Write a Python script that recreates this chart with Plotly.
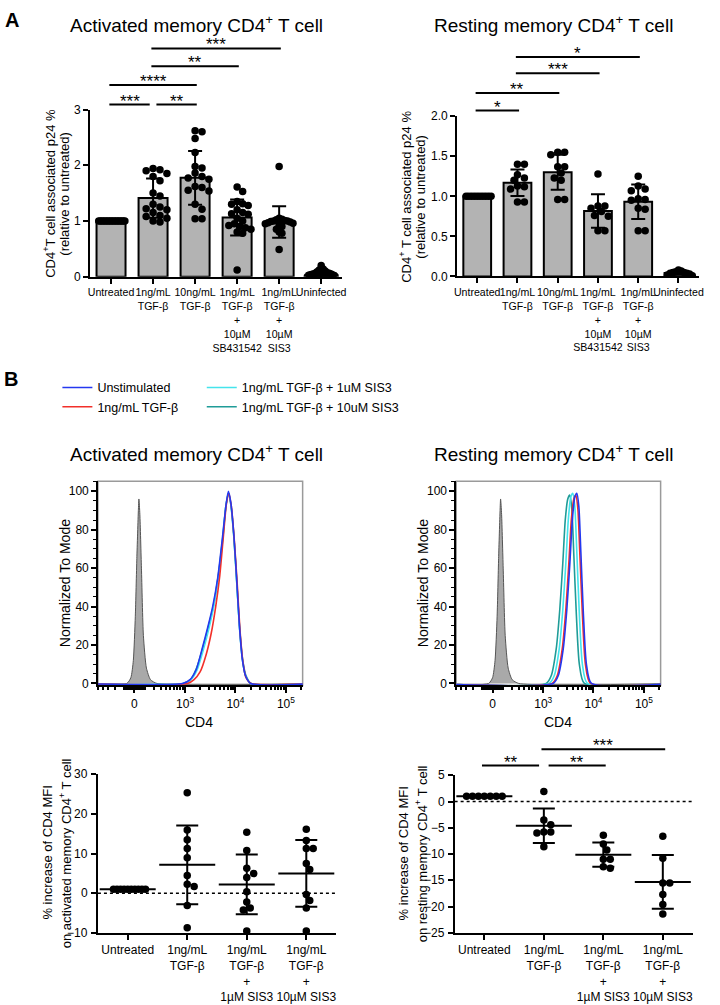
import numpy as np
import plotly.graph_objects as go

W, H = 720, 1005
FONT = "Arial, 'Liberation Sans', Helvetica, sans-serif"

# ------------------------------------------------------------------ data
# Panel A : CD4+ T cell associated p24 % (relative to untreated)
a_ticks = ["Untreated", "1ng/mL<br>TGF-β", "10ng/mL<br>TGF-β",
           "1ng/mL<br>TGF-β<br>+<br>10µM<br>SB431542",
           "1ng/mL<br>TGF-β<br>+<br>10µM<br>SIS3", "Uninfected"]

act_untreated = [1.00, 1.00, 1.00, 1.00, 1.00, 1.00, 1.00, 1.00, 1.00,
                 1.00, 1.00, 1.00, 1.00, 1.00, 1.00, 1.00, 1.00, 1.00]
act_tgf1 = [1.94, 1.92, 1.90, 1.85, 1.80, 1.72, 1.50, 1.45, 1.30, 1.25,
            1.22, 1.20, 1.15, 1.10, 1.08, 1.05, 1.00, 0.98]
act_tgf10 = [2.62, 2.60, 2.48, 2.23, 1.98, 1.95, 1.86, 1.80, 1.77, 1.75,
             1.62, 1.60, 1.55, 1.54, 1.30, 1.21, 1.04, 1.04]
act_sb = [1.61, 1.53, 1.35, 1.31, 1.30, 1.28, 1.20, 1.15, 1.13, 1.12,
          1.05, 1.00, 0.95, 0.92, 0.90, 0.88, 0.85, 0.80, 0.78, 0.12]
act_sis3 = [1.98, 1.05, 1.03, 1.02, 1.01, 1.00, 1.00, 0.99, 0.98, 0.97,
            0.96, 0.95, 0.92, 0.90, 0.85, 0.80, 0.78, 0.49]
act_uninf = [0.20, 0.14, 0.12, 0.10, 0.09, 0.08, 0.07, 0.06, 0.06, 0.05,
             0.05, 0.04, 0.03, 0.03, 0.02, 0.01, 0.00, 0.00]

res_untreated = [1.00, 1.00, 1.00, 1.00, 1.00, 1.00, 1.00, 1.00, 1.00, 1.00]
res_tgf1 = [1.40, 1.40, 1.27, 1.23, 1.20, 1.13, 1.12, 1.09, 0.93, 0.93]
res_tgf10 = [1.55, 1.55, 1.52, 1.37, 1.37, 1.29, 1.23, 1.20, 0.96, 0.96]
res_sb = [1.28, 0.88, 0.88, 0.85, 0.81, 0.76, 0.75, 0.57, 0.57]
res_sis3 = [1.25, 1.13, 1.09, 1.07, 0.97, 0.96, 0.95, 0.85, 0.84, 0.57, 0.57]
res_uninf = [0.08, 0.07, 0.06, 0.05, 0.05, 0.04, 0.04, 0.03, 0.02, 0.01]

act_yticks = [0, 1, 2, 3]
res_yticks = [0.0, 0.5, 1.0, 1.5, 2.0]

act_sig = [(0, 1, "***", 0), (1, 2, "**", 0), (0, 2, "****", 1),
           (1, 3, "**", 2), (1, 4, "***", 3)]
res_sig = [(0, 1, "*", 0), (0, 2, "**", 1), (1, 3, "***", 2), (1, 4, "*", 3)]

# Panel B : flow histograms (Normalized To Mode), CD4 on log10 scale
act_blue_lx = [2.95, 3.10, 3.22, 3.35, 3.45, 3.55, 3.65, 3.74, 3.81, 3.86, 3.91, 3.97, 4.03, 4.08, 4.14, 4.20, 4.30]
act_blue_y = [0, 2, 7, 19, 29, 40, 55, 75, 92, 100, 94, 77, 52, 30, 12, 4, 0]
act_red_lx = [3.05, 3.18, 3.30, 3.42, 3.52, 3.61, 3.69, 3.76, 3.82, 3.87, 3.92, 3.98, 4.04, 4.09, 4.15, 4.21, 4.31]
act_red_y = [0, 2, 6, 15, 26, 40, 56, 76, 93, 99, 92, 74, 50, 28, 11, 3, 0]
act_cyan_lx = [2.97, 3.12, 3.24, 3.37, 3.47, 3.57, 3.66, 3.75, 3.81, 3.86, 3.91, 3.97, 4.03, 4.08, 4.14, 4.20, 4.30]
act_cyan_y = [0, 2, 7, 18, 28, 40, 55, 75, 92, 99, 93, 76, 51, 29, 12, 4, 0]
act_teal_lx = [2.96, 3.11, 3.23, 3.36, 3.46, 3.56, 3.66, 3.75, 3.81, 3.86, 3.91, 3.97, 4.03, 4.08, 4.14, 4.21, 4.31]
act_teal_y = [0, 2, 8, 19, 29, 40, 56, 76, 92, 99, 93, 76, 51, 30, 13, 4, 0]
act_iso_cd4 = [-70, -32, -9, 9, 23, 37, 42, 51, 66, 85, 116, 161, 246]
act_iso_y = [0, 3, 12, 35, 65, 90, 96, 88, 60, 25, 8, 2, 0]

res_blue_lx = [3.20, 3.30, 3.40, 3.47, 3.53, 3.58, 3.63, 3.67, 3.71, 3.75, 3.80, 3.86, 3.96]
res_blue_y = [0, 4, 18, 38, 62, 85, 97, 99, 92, 68, 36, 10, 0]
res_red_lx = [3.18, 3.28, 3.38, 3.45, 3.51, 3.56, 3.61, 3.65, 3.69, 3.73, 3.78, 3.84, 3.94]
res_red_y = [0, 4, 18, 38, 62, 85, 96, 98, 91, 67, 36, 10, 0]
res_cyan_lx = [3.12, 3.22, 3.32, 3.39, 3.45, 3.50, 3.55, 3.59, 3.63, 3.67, 3.72, 3.78, 3.88]
res_cyan_y = [0, 4, 18, 38, 62, 85, 97, 99, 92, 68, 36, 10, 0]
res_teal_lx = [3.06, 3.16, 3.26, 3.33, 3.39, 3.44, 3.49, 3.53, 3.57, 3.61, 3.66, 3.72, 3.82]
res_teal_y = [0, 4, 18, 38, 62, 85, 96, 98, 91, 67, 36, 10, 0]
res_iso_cd4 = [-37, 0, 23, 42, 56, 70, 75, 85, 101, 122, 155, 204, 302]
res_iso_y = [0, 3, 12, 35, 65, 90, 96, 88, 60, 25, 8, 2, 0]

cd4_edges = [-2000, 400000]          # zero-count ends of every histogram
cd4_major = [0, 1e3, 1e4, 1e5]
cd4_major_text = ["0", "10<sup>3</sup>", "10<sup>4</sup>", "10<sup>5</sup>"]
mode_ticks = [0, 20, 40, 60, 80, 100]

legend_names = ["Unstimulated", "1ng/mL TGF-β", "1ng/mL TGF-β + 1uM SIS3", "1ng/mL TGF-β + 10uM SIS3"]
legend_colors = ["#2438f0", "#f2302a", "#44e4ec", "#1f9c98"]

# Panel B : % increase of CD4 MFI
b_ticks = ["Untreated", "1ng/mL<br>TGF-β", "1ng/mL<br>TGF-β<br>+<br>1µM SIS3",
           "1ng/mL<br>TGF-β<br>+<br>10µM SIS3"]
actmfi_untreated = [1.0, 1.0, 1.0, 1.0, 1.0, 1.0, 1.0, 1.0, 1.0, 1.0]
actmfi_tgf = [25.4, 16.0, 13.5, 11.3, 9.0, 4.5, 2.3, 1.7, -3.1, -8.7]
actmfi_sis1 = [15.4, 10.8, 6.3, 5.0, 4.0, 0.4, -2.2, -3.7, -4.2, -9.5]
actmfi_sis10 = [16.2, 13.3, 11.3, 11.3, 7.5, 6.0, -0.3, -1.8, -3.7, -9.5]
resmfi_untreated = [1.0, 1.0, 1.0, 1.0, 1.0, 1.0, 1.0]
resmfi_tgf = [1.9, -3.5, -4.4, -5.8, -5.8, -6.0, -8.6]
resmfi_sis1 = [-6.4, -8.1, -9.2, -11.0, -11.0, -12.4, -12.7]
resmfi_sis10 = [-6.6, -10.8, -15.5, -15.5, -17.7, -19.6, -21.4]
resmfi_sig = [(0, 1, "**", 0), (1, 2, "**", 0), (1, 3, "***", 1)]
actmfi_yticks = [-10, 0, 10, 20, 30]
resmfi_yticks = [-25, -20, -15, -10, -5, 0, 5]

# ------------------------------------------------------------------ layout geometry (pixels)
P = {  # x_left, x_right, y_top, y_bottom
    "A1": (88, 343, 104, 273.5),
    "A2": (459.2, 703.4, 110.7, 273.3),
    "F1": (96, 303, 481, 688),
    "F2": (458.3, 665, 481, 688),
    "B1": (96, 336.8, 778.3, 939),
    "B2": (456.7, 697.3, 779.1, 939),
}


def px(x):
    return x / W


def py(y):
    return 1 - y / H


def biex(v):
    return 2.0 + np.arcsinh(np.asarray(v, float) / 200.0) / np.log(10.0)


def num_text(vals, fmt="{:g}"):
    return [fmt.format(v).replace("-", "\u2212") for v in vals]


def swarm(values, ppu_y, ppc_x, d=7.0, limit=14.0):
    v = np.asarray(values, float)
    order = np.argsort(-v, kind="stable")
    placed, offs = [], np.zeros(len(v))
    for idx in order:
        y = v[idx] * ppu_y
        k = 0
        while True:
            cand = 0.0 if k == 0 else ((k + 1) // 2) * (d / 2) * (1 if k % 2 else -1)
            if all((cand - ox) ** 2 + (y - oy) ** 2 >= 0.9 * d * d for ox, oy in placed):
                break
            k += 1
        placed.append((cand, y))
        offs[idx] = cand
    m = np.abs(offs).max()
    if m > limit:
        offs *= limit / m
    return offs / ppc_x


fig = go.Figure()
annotations = []


def ann(text, x, y, size, angle=0, bold=False):
    t = "<b>%s</b>" % text if bold else text
    annotations.append(dict(text=t, x=px(x), y=py(y), xref="paper", yref="paper",
                            showarrow=False, textangle=angle,
                            font=dict(size=size, color="black", family=FONT),
                            xanchor="center", yanchor="middle"))


def ytick_labels(key, ya, vals):
    # y tick labels written as text next to the axis (keeps the minus signs)
    for v, t in zip(vals, num_text(vals)):
        annotations.append(dict(text=t, x=px(P[key][0] - 8), xref="paper", y=v, yref=ya,
                                showarrow=False, xanchor="right", yanchor="middle",
                                font=dict(size=12, color="black", family=FONT)))


def add_sig(comps, levels, xref):
    for (i, j, lab, lev) in comps:
        starts_at_j = any(c[0] == j and c[3] == lev for c in comps)
        ends_at_i = any(c[1] == i and c[3] == lev for c in comps)
        x0 = i + 0.08 if ends_at_i else i - 0.04
        x1 = j - 0.08 if starts_at_j else j + 0.04
        yp = py(levels[lev])
        fig.add_shape(type="line", xref=xref, yref="paper", x0=x0, x1=x1, y0=yp, y1=yp,
                      line=dict(color="black", width=2))
        annotations.append(dict(text=lab, x=(x0 + x1) / 2, xref=xref, y=yp, yref="paper",
                                showarrow=False, yanchor="bottom", yshift=-8,
                                font=dict(size=17, color="black", family=FONT)))


def bar_panel(groups, key, xa, ya, yrange):
    x0, x1, yt, yb = P[key]
    ppc = (x1 - x0) / len(groups)
    ppu = (yb - yt) / (yrange[1] - yrange[0])
    means = [float(np.mean(g)) for g in groups]
    sds = [float(np.std(g, ddof=1)) for g in groups]
    cats = list(range(len(groups)))
    fig.add_trace(go.Bar(x=cats, y=means, width=0.69, xaxis=xa, yaxis=ya, showlegend=False,
                         marker=dict(color="#b3b3b3", line=dict(color="black", width=2))))
    for c, g in zip(cats, groups):
        off = swarm(g, ppu, ppc, d=7.0, limit=14.0)
        fig.add_trace(go.Scatter(x=c + off, y=g, mode="markers", xaxis=xa, yaxis=ya,
                                 showlegend=False, marker=dict(size=7.5, color="black")))
    fig.add_trace(go.Scatter(x=cats, y=means, mode="markers", xaxis=xa, yaxis=ya, showlegend=False,
                             marker=dict(size=1, color="rgba(0,0,0,0)"),
                             error_y=dict(type="data", array=sds, color="black", thickness=2, width=7)))


def dot_panel(groups, key, xa, ya, yrange):
    x0, x1, yt, yb = P[key]
    ppc = (x1 - x0) / len(groups)
    ppu = (yb - yt) / (yrange[1] - yrange[0])
    means = [float(np.mean(g)) for g in groups]
    sds = [float(np.std(g, ddof=1)) for g in groups]
    cats = list(range(len(groups)))
    for c, g in zip(cats, groups):
        off = swarm(g, ppu, ppc, d=7.0, limit=18.0)
        fig.add_trace(go.Scatter(x=c + off, y=g, mode="markers", xaxis=xa, yaxis=ya,
                                 showlegend=False, marker=dict(size=7.5, color="black")))
    fig.add_trace(go.Scatter(x=cats, y=means, mode="markers", xaxis=xa, yaxis=ya, showlegend=False,
                             marker=dict(symbol="line-ew", size=40, color="black",
                                         line=dict(color="black", width=2)),
                             error_y=dict(type="data", array=sds, color="black", thickness=2, width=11)))
    fig.add_shape(type="line", xref=xa + " domain", yref=ya, x0=0, x1=1, y0=0, y1=0,
                  line=dict(color="black", width=1.5, dash="dot"))


def flow_panel(iso_x, iso_y, curves, xa, ya, legend_on):
    xs = biex(np.concatenate([[cd4_edges[0]], iso_x, [cd4_edges[1]]]))
    ys = np.concatenate([[0], iso_y, [0]])
    fig.add_trace(go.Scatter(x=xs, y=ys, mode="lines", fill="tozeroy", fillcolor="#a9a9a9",
                             line=dict(color="#555555", width=1, shape="spline", smoothing=0.6),
                             xaxis=xa, yaxis=ya, showlegend=False))
    # draw order: teal, cyan, red, blue (blue on top)
    for k in [3, 2, 1, 0]:
        lx, yy = curves[k]
        xv = biex(np.concatenate([[cd4_edges[0]], 10 ** np.asarray(lx), [cd4_edges[1]]]))
        yv = np.concatenate([[0], yy, [0]])
        fig.add_trace(go.Scatter(x=xv, y=yv, mode="lines", name=legend_names[k],
                                 line=dict(color=legend_colors[k], width=1.6, shape="spline", smoothing=0.6),
                                 xaxis=xa, yaxis=ya, showlegend=legend_on,
                                 legend="legend" if k < 2 else "legend2",
                                 legendrank=1 if k in (0, 2) else 2))
    fig.add_shape(type="rect", xref=xa + " domain", yref=ya + " domain", x0=0, x1=1, y0=0, y1=1,
                  line=dict(color="#9a9a9a", width=1.5), layer="below")


# ------------------------------------------------------------------ traces
bar_panel([act_untreated, act_tgf1, act_tgf10, act_sb, act_sis3, act_uninf], "A1", "x", "y", (0, 3))
bar_panel([res_untreated, res_tgf1, res_tgf10, res_sb, res_sis3, res_uninf], "A2", "x2", "y2", (0, 2))
flow_panel(act_iso_cd4, act_iso_y,
           [(act_blue_lx, act_blue_y), (act_red_lx, act_red_y), (act_cyan_lx, act_cyan_y), (act_teal_lx, act_teal_y)],
           "x3", "y3", True)
flow_panel(res_iso_cd4, res_iso_y,
           [(res_blue_lx, res_blue_y), (res_red_lx, res_red_y), (res_cyan_lx, res_cyan_y), (res_teal_lx, res_teal_y)],
           "x4", "y4", False)
dot_panel([actmfi_untreated, actmfi_tgf, actmfi_sis1, actmfi_sis10], "B1", "x5", "y5", (-10, 30))
dot_panel([resmfi_untreated, resmfi_tgf, resmfi_sis1, resmfi_sis10], "B2", "x6", "y6", (-25, 5))

add_sig(act_sig, [99, 79, 60, 42], "x")
add_sig(res_sig, [105, 87.3, 67.3, 50.7], "x2")
add_sig(resmfi_sig, [769.3, 752.7], "x6")

# ------------------------------------------------------------------ axes
def xdom(k):
    return [px(P[k][0]), px(P[k][1])]


def ydom(k):
    return [py(P[k][3]), py(P[k][2])]


common = dict(showgrid=False, zeroline=False, showline=True, linecolor="black", linewidth=2,
              ticks="outside", tickcolor="black", tickwidth=2, ticklen=5, tickangle=0,
              tickfont=dict(size=12, color="black", family=FONT), fixedrange=True)
cat_font = dict(size=10.6, color="black", family=FONT)

minor_vals = []
for dec in [10, 100, 1000, 10000, 100000]:
    for m in range(1, 10):
        v = m * dec
        if v in cd4_major:
            continue
        minor_vals += [v]
        if dec <= 100:
            minor_vals += [-v]
minor_pos = [float(p) for p in biex(minor_vals) if 1.27 < p < 5.34]

flow_x = dict(common, linewidth=2, range=[1.28, 5.33], tickvals=[float(p) for p in biex(cd4_major)],
              ticktext=cd4_major_text, ticklen=6,
              minor=dict(tickmode="array", tickvals=minor_pos, ticks="outside", ticklen=3,
                         tickwidth=1.5, tickcolor="black"))
flow_y = dict(common, linewidth=1.5, tickwidth=1.5, range=[-1, 105.2], tickvals=mode_ticks,
              ticktext=num_text(mode_ticks),
              minor=dict(dtick=5, tick0=0, ticks="outside", ticklen=3, tickwidth=1, tickcolor="black"))

fig.update_layout(
    xaxis=dict(common, domain=xdom("A1"), anchor="y", range=[-0.5, 5.5], tickvals=list(range(6)),
               ticktext=a_ticks, tickfont=cat_font),
    yaxis=dict(common, domain=ydom("A1"), anchor="x", range=[0, 3], tickvals=act_yticks,
               ticktext=num_text(act_yticks)),
    xaxis2=dict(common, domain=xdom("A2"), anchor="y2", range=[-0.5, 5.5], tickvals=list(range(6)),
                ticktext=a_ticks, tickfont=cat_font),
    yaxis2=dict(common, domain=ydom("A2"), anchor="x2", range=[0, 2], tickvals=res_yticks,
                ticktext=num_text(res_yticks, "{:.1f}")),
    xaxis3=dict(flow_x, domain=xdom("F1"), anchor="y3"),
    yaxis3=dict(flow_y, domain=ydom("F1"), anchor="x3"),
    xaxis4=dict(flow_x, domain=xdom("F2"), anchor="y4"),
    yaxis4=dict(flow_y, domain=ydom("F2"), anchor="x4"),
    xaxis5=dict(common, domain=xdom("B1"), anchor="y5", range=[-0.5, 3.5], tickvals=list(range(4)),
                ticktext=b_ticks),
    yaxis5=dict(common, domain=ydom("B1"), anchor="x5", range=[-10, 30], tickvals=actmfi_yticks,
                showticklabels=False),
    xaxis6=dict(common, domain=xdom("B2"), anchor="y6", range=[-0.5, 3.5], tickvals=list(range(4)),
                ticktext=b_ticks),
    yaxis6=dict(common, domain=ydom("B2"), anchor="x6", range=[-25, 5], tickvals=resmfi_yticks,
                showticklabels=False),
)
ytick_labels("B1", "y5", actmfi_yticks)
ytick_labels("B2", "y6", resmfi_yticks)

# ------------------------------------------------------------------ text
ann("A", 9, 13, 20, bold=True)
ann("B", 8, 377, 20, bold=True)
ann("Activated memory CD4<sup>+</sup> T cell", 195.5, 17, 19)
ann("Resting memory CD4<sup>+</sup> T cell", 557, 17, 19)
ann("Activated memory CD4<sup>+</sup> T cell", 195.5, 452, 19)
ann("Resting memory CD4<sup>+</sup> T cell", 557, 452, 19)
ann("CD4<sup>+</sup>T cell associated p24 %", 47, 189, 13, angle=-90)
ann("(relative to untreated)", 62, 189, 13, angle=-90)
ann("CD4<sup>+</sup> T cell associated p24 %", 407, 192, 13, angle=-90)
ann("(relative to untreated)", 422, 192, 13, angle=-90)
ann("Normalized To Mode", 63, 584, 14, angle=-90)
ann("Normalized To Mode", 425, 584, 14, angle=-90)
ann("CD4", 198, 725, 14)
ann("CD4", 561, 725, 14)
ann("% increase of CD4 MFI", 45, 858, 13, angle=-90)
ann("on activated memory CD4<sup>+</sup> T cell", 63, 858, 13, angle=-90)
ann("% increase of CD4 MFI", 405, 859, 13, angle=-90)
ann("on resting memory CD4<sup>+</sup> T cell", 423, 859, 13, angle=-90)

fig.update_layout(
    width=W, height=H, autosize=False,
    margin=dict(l=0, r=0, t=0, b=0),
    paper_bgcolor="white", plot_bgcolor="rgba(0,0,0,0)",
    font=dict(family=FONT, color="black"),
    annotations=annotations,
    showlegend=True,
    legend=dict(x=px(55), y=py(371), xanchor="left", yanchor="top", bgcolor="rgba(0,0,0,0)",
                font=dict(size=12.5, family=FONT, color="black"), tracegroupgap=0, itemwidth=30),
    legend2=dict(x=px(201), y=py(371), xanchor="left", yanchor="top", bgcolor="rgba(0,0,0,0)",
                 font=dict(size=12.5, family=FONT, color="black"), tracegroupgap=0, itemwidth=30),
)

fig.write_html("out.html", config={"displayModeBar": False},
               post_script="document.body.style.margin='0';")
